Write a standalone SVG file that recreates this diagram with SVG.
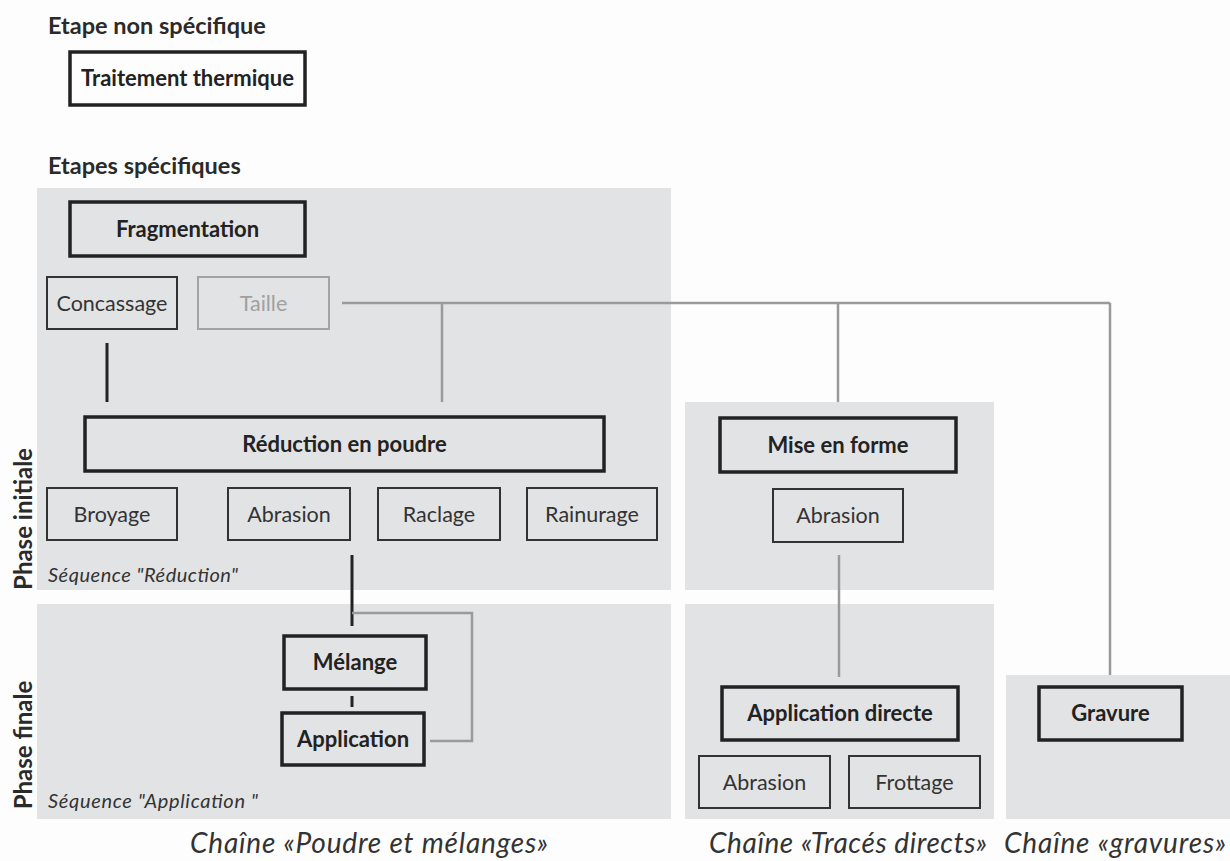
<svg xmlns="http://www.w3.org/2000/svg" width="1230" height="861" viewBox="0 0 1230 861">
<style>
.bg{fill:#fdfdfd}
.panel{fill:#e2e3e5}
.thick{fill:none;stroke:#222;stroke-width:3.5}
.thin{fill:none;stroke:#333;stroke-width:2}
.grey{fill:none;stroke:#a3a3a3;stroke-width:2}
.t{font-family:Lato,"Liberation Sans",sans-serif;font-size:21.5px;fill:#333;text-anchor:middle}
.b{font-family:Lato,"Liberation Sans",sans-serif;font-size:22px;font-weight:bold;fill:#222;text-anchor:middle}
.h{font-family:Lato,"Liberation Sans",sans-serif;font-size:23.5px;font-weight:bold;fill:#2a2a2a}
.ph{font-family:Lato,"Liberation Sans",sans-serif;font-size:24px;font-weight:bold;fill:#2a2a2a;text-anchor:middle}
.seq{font-family:Lato,"Liberation Sans",sans-serif;font-size:20px;font-style:italic;fill:#333}
.ch{font-family:Lato,"Liberation Sans",sans-serif;font-size:28px;font-style:italic;fill:#333}
.dk{fill:none;stroke:#222;stroke-width:3}
.gl{fill:none;stroke:#9a9a9a;stroke-width:2.5}
</style>
<rect class="bg" x="0" y="0" width="1230" height="861"/>
<g id="panels">
<rect class="panel" x="37" y="188" width="634" height="402"/>
<rect class="panel" x="37" y="604" width="634" height="215"/>
<rect class="panel" x="685" y="402" width="309" height="188"/>
<rect class="panel" x="685" y="604" width="309" height="215"/>
<rect class="panel" x="1006" y="675" width="224" height="144"/>
</g>
<g id="labels">
<text class="h" x="48" y="34">Etape non spécifique</text>
<text class="h" x="48" y="174">Etapes spécifiques</text>
<text class="ph" transform="translate(32,519) rotate(-90)">Phase initiale</text>
<text class="ph" transform="translate(32,745) rotate(-90)">Phase finale</text>
<text class="seq" x="48" y="582" textLength="190">Séquence "Réduction"</text>
<text class="seq" x="48" y="808" textLength="210">Séquence "Application "</text>
<text class="ch" x="190" y="853" textLength="358">Chaîne «Poudre et mélanges»</text>
<text class="ch" x="709" y="853" textLength="278">Chaîne «Tracés directs»</text>
<text class="ch" x="1004" y="853" textLength="222">Chaîne «gravures»</text>
</g>
<g id="connectors">
<line class="dk" x1="107" y1="343" x2="107" y2="402"/>
<path class="gl" d="M342 303 H1110 M442 303 V402 M838 303 V402 M1110 303 V675"/>
<line class="dk" x1="352" y1="555" x2="352" y2="626"/>
<path class="gl" d="M352 613 H472 V741 H430"/>
<line class="dk" x1="352" y1="696" x2="352" y2="707"/>
<line class="gl" x1="839" y1="555" x2="839" y2="677"/>
</g>
<g id="traitement"><rect class="thick" x="70" y="52" width="235" height="53"/><text class="b" x="187.5" y="86">Traitement thermique</text></g>
<g id="fragmentation"><rect class="thick" x="70" y="202" width="235" height="54"/><text class="b" x="187.5" y="237">Fragmentation</text></g>
<g id="concassage"><rect class="thin" x="47" y="277" width="130" height="52"/><text class="t" x="112" y="311">Concassage</text></g>
<g id="taille"><rect class="grey" x="198" y="277" width="131" height="52"/><text class="t" x="263.5" y="311" style="fill:#a0a0a0">Taille</text></g>
<g id="reduction"><rect class="thick" x="85" y="417" width="519" height="54"/><text class="b" x="344.5" y="452">Réduction en poudre</text></g>
<g id="broyage"><rect class="thin" x="47" y="488" width="130" height="52"/><text class="t" x="112" y="522">Broyage</text></g>
<g id="abrasion1"><rect class="thin" x="228" y="488" width="122" height="52"/><text class="t" x="289" y="522">Abrasion</text></g>
<g id="raclage"><rect class="thin" x="378" y="488" width="122" height="52"/><text class="t" x="439" y="522">Raclage</text></g>
<g id="rainurage"><rect class="thin" x="527" y="488" width="130" height="52"/><text class="t" x="592" y="522">Rainurage</text></g>
<g id="miseenforme"><rect class="thick" x="720" y="418" width="236" height="54"/><text class="b" x="838" y="453">Mise en forme</text></g>
<g id="abrasion2"><rect class="thin" x="773" y="489" width="130" height="53"/><text class="t" x="838" y="523">Abrasion</text></g>
<g id="melange"><rect class="thick" x="284" y="636" width="142" height="53"/><text class="b" x="355" y="670">Mélange</text></g>
<g id="application"><rect class="thick" x="282" y="713" width="142" height="52"/><text class="b" x="353" y="747">Application</text></g>
<g id="appdirecte"><rect class="thick" x="722" y="687" width="236" height="53"/><text class="b" x="840" y="721">Application directe</text></g>
<g id="abrasion3"><rect class="thin" x="699" y="756" width="131" height="52"/><text class="t" x="764.5" y="790">Abrasion</text></g>
<g id="frottage"><rect class="thin" x="849" y="756" width="131" height="52"/><text class="t" x="914.5" y="790">Frottage</text></g>
<g id="gravure"><rect class="thick" x="1039" y="687" width="143" height="53"/><text class="b" x="1110.5" y="721">Gravure</text></g>
</svg>
